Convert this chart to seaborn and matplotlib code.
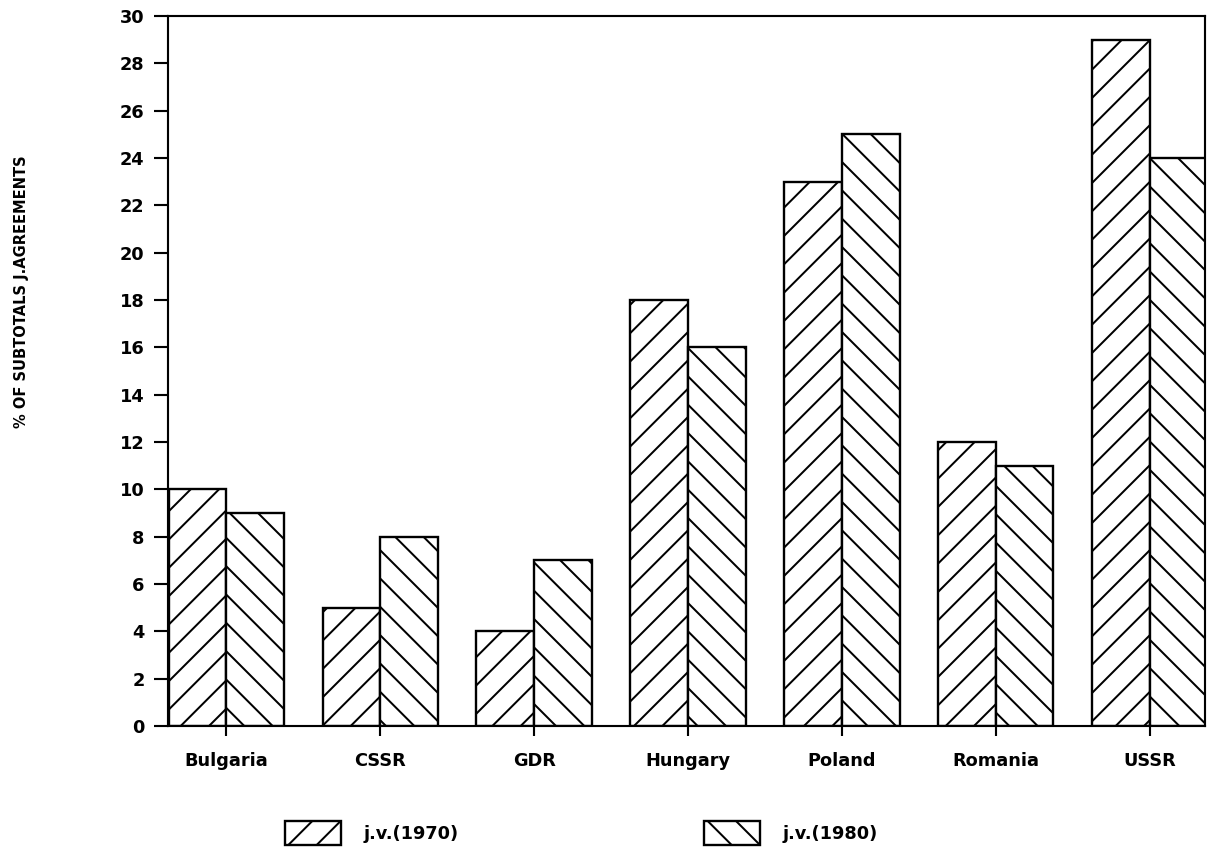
import pandas as pd
import matplotlib.pyplot as plt
import seaborn as sns

# data
countries = ['Bulgaria', 'CSSR', 'GDR', 'Hungary', 'Poland', 'Romania', 'USSR']
jv_1970 = [10, 5, 4, 18, 23, 12, 29]
jv_1980 = [9, 8, 7, 16, 25, 11, 24]
series_labels = ['j.v.(1970)', 'j.v.(1980)']
y_ticks = list(range(0, 31, 2))

sns.set_style('ticks')
plt.rcParams['font.family'] = ['DejaVu Sans']
plt.rcParams['font.weight'] = 'bold'
plt.rcParams['text.color'] = 'black'
plt.rcParams['xtick.color'] = 'black'
plt.rcParams['ytick.color'] = 'black'
plt.rcParams['hatch.linewidth'] = 0.85
plt.rcParams['hatch.color'] = 'black'

df = pd.DataFrame({
    'country': countries * 2,
    'value': jv_1970 + jv_1980,
    'series': [series_labels[0]] * len(countries) + [series_labels[1]] * len(countries),
})

dpi = 170
fig = plt.figure(figsize=(1215 / dpi, 848 / dpi), dpi=dpi)
ax = fig.add_axes([168 / 1215, 1 - 726 / 848, (1205 - 168) / 1215, (726 - 16) / 848])

sns.barplot(data=df, x='country', y='value', hue='series', order=countries,
            hue_order=series_labels, palette=['white', 'white'], edgecolor='black',
            linewidth=1.0, width=0.75, saturation=1, ax=ax)

# hatches: 1970 rising, 1980 falling
for cont, hatch in zip(ax.containers, ['//', '\\\\']):
    for p in cont.patches:
        p.set_hatch(hatch)
        p.set_edgecolor('black')

ax.get_legend().remove()
ax.set_xlim(-0.38, 6.36)
ax.set_ylim(0, 30)
ax.set_yticks(y_ticks)
ax.set_xlabel('')
ax.set_ylabel('')
for s in ax.spines.values():
    s.set_linewidth(0.9)
    s.set_color('black')
ax.tick_params(axis='y', length=6, width=0.9, labelsize=7.5, pad=4)
ax.tick_params(axis='x', length=4.2, width=0.9, labelsize=7.5, pad=7)

fig.text(22 / 1215, 1 - 292 / 848, '% OF SUBTOTALS J.AGREEMENTS', rotation=90,
         ha='center', va='center', fontsize=6.2, fontweight='bold')

fig.legend(ax.containers, series_labels, loc='center left', ncol=2,
           bbox_to_anchor=(285 / 1215, 1 - 833 / 848), frameon=False,
           fontsize=7.5, borderpad=0, borderaxespad=0, handlelength=3.16,
           handleheight=1.75, handletextpad=1.25, columnspacing=13.9)

fig.savefig('out.png', dpi=dpi)
